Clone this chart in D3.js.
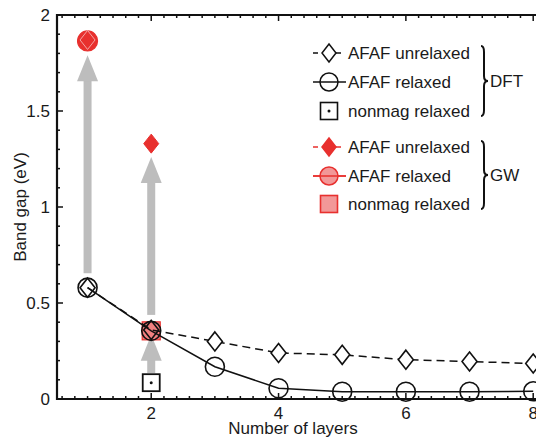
<!DOCTYPE html>
<html>
<head>
<meta charset="utf-8">
<script src="https://cdn.jsdelivr.net/npm/d3@7"></script>
<style>
  body { margin: 0; background: #fff; }
  text { font-family: "Liberation Sans", Arial, sans-serif; fill: #1a1a1a; }
</style>
</head>
<body>
<svg id="chart" width="536" height="437"></svg>
<script>
// layers
const layers = [1, 2, 3, 4, 5, 6, 7, 8];
// DFT band gaps (eV)
const dftUnrelaxed = [0.58, 0.36, 0.30, 0.24, 0.23, 0.205, 0.195, 0.185];
const dftRelaxed = [0.58, 0.355, 0.168, 0.056, 0.038, 0.038, 0.038, 0.04];
const dftNonmag = [{ n: 2, gap: 0.085 }];
// GW band gaps (eV)
const gwUnrelaxed = [{ n: 1, gap: 1.87 }, { n: 2, gap: 1.33 }];
const gwRelaxed = [{ n: 1, gap: 1.865 }];
const gwNonmag = [{ n: 2, gap: 0.355 }];
// gray arrows DFT -> GW
const arrows = [
  { n: 1, from: 0.655, to: 1.79 },
  { n: 2, from: 0.438, to: 1.26 },
  { n: 2, from: 0.135, to: 0.335 }
];
const xTicks = [2, 4, 6, 8];
const yTicks = [0, 0.5, 1, 1.5, 2];

const red = '#e8302e';
const pink = '#f29898';
const gray = '#bdbdbd';

const svg = d3.select('#chart');
const x = d3.scaleLinear().domain([0.52, 8.6]).range([57, 571.4]);
const y = d3.scaleLinear().domain([0, 2]).range([399, 15]);

function diamond(hw, hh) {
  return 'M0,' + (-hh) + 'L' + hw + ',0L0,' + hh + 'L' + (-hw) + ',0Z';
}

// arrows
const ag = svg.append('g');
arrows.forEach(a => {
  const cx = x(a.n), y0 = y(a.from), tip = y(a.to), base = tip + 26;
  ag.append('rect')
    .attr('x', cx - 4).attr('width', 8)
    .attr('y', base - 1).attr('height', y0 - base + 1)
    .attr('fill', gray);
  ag.append('path')
    .attr('d', 'M' + cx + ',' + tip + 'L' + (cx + 10.5) + ',' + base + 'L' + (cx - 10.5) + ',' + base + 'Z')
    .attr('fill', gray);
});

// GW markers
svg.selectAll('.gwnm').data(gwNonmag).enter().append('rect')
  .attr('x', d => x(d.n) - 9).attr('y', d => y(d.gap) - 9)
  .attr('width', 18).attr('height', 18)
  .attr('fill', '#f28080').attr('stroke', red).attr('stroke-width', 1.2);
svg.selectAll('.gwrel').data(gwRelaxed).enter().append('circle')
  .attr('cx', d => x(d.n)).attr('cy', d => y(d.gap)).attr('r', 10)
  .attr('fill', red).attr('stroke', red).attr('stroke-width', 1.2);
svg.selectAll('.gwun').data(gwUnrelaxed).enter().append('path')
  .attr('transform', d => 'translate(' + x(d.n) + ',' + y(d.gap) + ')')
  .attr('d', diamond(7.5, 9.5))
  .attr('fill', red)
  .attr('stroke', (d, i) => i === 0 ? '#f4a5a5' : red).attr('stroke-width', 1);

// DFT lines
const line = d3.line().x((d, i) => x(layers[i])).y(d => y(d));
svg.append('path').datum(dftUnrelaxed).attr('d', line)
  .attr('fill', 'none').attr('stroke', '#111').attr('stroke-width', 1.5)
  .attr('stroke-dasharray', '8,5');
svg.append('path').datum(dftRelaxed).attr('d', line)
  .attr('fill', 'none').attr('stroke', '#111').attr('stroke-width', 1.5);

// DFT markers
svg.selectAll('.dun').data(dftUnrelaxed).enter().append('path')
  .attr('transform', (d, i) => 'translate(' + x(layers[i]) + ',' + y(d) + ')')
  .attr('d', diamond(7.5, 9.5))
  .attr('fill', (d, i) => i < 2 ? 'none' : '#fff')
  .attr('stroke', '#111').attr('stroke-width', 1.6);
svg.selectAll('.drel').data(dftRelaxed).enter().append('circle')
  .attr('cx', (d, i) => x(layers[i])).attr('cy', d => y(d)).attr('r', 9.5)
  .attr('fill', 'none').attr('stroke', '#111').attr('stroke-width', 1.6);
dftNonmag.forEach(d => {
  svg.append('rect')
    .attr('x', x(d.n) - 8.5).attr('y', y(d.gap) - 8.5)
    .attr('width', 17).attr('height', 17)
    .attr('fill', '#fff').attr('stroke', '#111').attr('stroke-width', 1.8);
  svg.append('circle').attr('cx', x(d.n)).attr('cy', y(d.gap)).attr('r', 1.5).attr('fill', '#111');
});

// frame and ticks
const frame = svg.append('g').attr('stroke', '#111');
frame.append('path')
  .attr('d', 'M536,' + y(2) + 'H' + x(0.52) + 'V' + y(0) + 'H536')
  .attr('fill', 'none').attr('stroke-width', 2.2);
d3.range(0.6, 8.61, 0.2).forEach(v => {
  const major = xTicks.some(t => Math.abs(t - v) < 1e-6);
  const len = major ? 6 : 3;
  frame.append('line').attr('x1', x(v)).attr('x2', x(v))
    .attr('y1', y(0)).attr('y2', y(0) - len).attr('stroke-width', 1.5);
  frame.append('line').attr('x1', x(v)).attr('x2', x(v))
    .attr('y1', y(2)).attr('y2', y(2) + len).attr('stroke-width', 1.5);
});
d3.range(0.1, 1.95, 0.1).forEach(v => {
  const major = yTicks.some(t => Math.abs(t - v) < 1e-6);
  frame.append('line').attr('x1', x(0.52)).attr('x2', x(0.52) + (major ? 6 : 3))
    .attr('y1', y(v)).attr('y2', y(v)).attr('stroke-width', 1.5);
});

svg.selectAll('.xt').data(xTicks).enter().append('text')
  .attr('x', d => x(d)).attr('y', 419).attr('text-anchor', 'middle')
  .style('font-size', '17px').text(d => d);
svg.selectAll('.yt').data(yTicks).enter().append('text')
  .attr('x', 50).attr('y', d => y(d) + 6).attr('text-anchor', 'end')
  .style('font-size', '17px').text(d => d);
svg.append('text').attr('x', 293).attr('y', 434).attr('text-anchor', 'middle')
  .style('font-size', '17px').text('Number of layers');
svg.append('text').attr('transform', 'translate(26,207) rotate(-90)')
  .attr('text-anchor', 'middle').style('font-size', '17px').text('Band gap (eV)');

// legend
const legendRows = [
  { label: 'AFAF unrelaxed', y: 53, mark: 'diamond', dash: true, color: '#111', fill: 'none' },
  { label: 'AFAF relaxed', y: 82, mark: 'circle', dash: false, color: '#111', fill: 'none' },
  { label: 'nonmag relaxed', y: 111, mark: 'square', color: '#111', fill: 'none' },
  { label: 'AFAF unrelaxed', y: 147, mark: 'diamond', dash: true, color: red, fill: red },
  { label: 'AFAF relaxed', y: 176, mark: 'circle', dash: false, color: red, fill: pink },
  { label: 'nonmag relaxed', y: 204, mark: 'square', color: red, fill: pink }
];
const lg = svg.append('g');
legendRows.forEach(r => {
  const mx = 329;
  if (r.mark !== 'square') {
    lg.append('line').attr('x1', 313).attr('x2', 346).attr('y1', r.y).attr('y2', r.y)
      .attr('stroke', r.color).attr('stroke-width', 1.5)
      .attr('stroke-dasharray', r.dash ? '5,18' : null);
  }
  if (r.mark === 'diamond') {
    lg.append('path').attr('transform', 'translate(' + mx + ',' + r.y + ')')
      .attr('d', diamond(7, 9)).attr('fill', r.fill === 'none' ? '#fff' : r.fill)
      .attr('stroke', r.color).attr('stroke-width', 1.5);
  } else if (r.mark === 'circle') {
    lg.append('circle').attr('cx', mx).attr('cy', r.y).attr('r', 9)
      .attr('fill', r.fill).attr('stroke', r.color).attr('stroke-width', 1.5);
    if (r.fill !== 'none') {
      lg.append('line').attr('x1', 313).attr('x2', 346).attr('y1', r.y).attr('y2', r.y)
        .attr('stroke', r.color).attr('stroke-width', 1.5);
    }
  } else {
    lg.append('rect').attr('x', mx - 8.5).attr('y', r.y - 8.5).attr('width', 17).attr('height', 17)
      .attr('fill', r.fill === 'none' ? '#fff' : r.fill).attr('stroke', r.color).attr('stroke-width', 1.6);
    if (r.fill === 'none') lg.append('circle').attr('cx', mx).attr('cy', r.y).attr('r', 1.5).attr('fill', '#111');
  }
  lg.append('text').attr('x', 348).attr('y', r.y + 6).style('font-size', '17px').text(r.label);
});

function brace(bx, top, bot) {
  const mid = (top + bot) / 2;
  return 'M' + bx + ',' + top + 'Q' + (bx + 3) + ',' + top + ' ' + (bx + 3) + ',' + (top + 6) +
    'L' + (bx + 3) + ',' + (mid - 5) + 'Q' + (bx + 3) + ',' + mid + ' ' + (bx + 7) + ',' + mid +
    'Q' + (bx + 3) + ',' + mid + ' ' + (bx + 3) + ',' + (mid + 5) +
    'L' + (bx + 3) + ',' + (bot - 6) + 'Q' + (bx + 3) + ',' + bot + ' ' + bx + ',' + bot;
}
[{ t: 'DFT', top: 46, bot: 116 }, { t: 'GW', top: 141, bot: 209 }].forEach(b => {
  lg.append('path').attr('d', brace(481, b.top, b.bot))
    .attr('fill', 'none').attr('stroke', '#111').attr('stroke-width', 2);
  lg.append('text').attr('x', 490).attr('y', (b.top + b.bot) / 2 + 6)
    .style('font-size', '17px').text(b.t);
});
</script>
</body>
</html>
